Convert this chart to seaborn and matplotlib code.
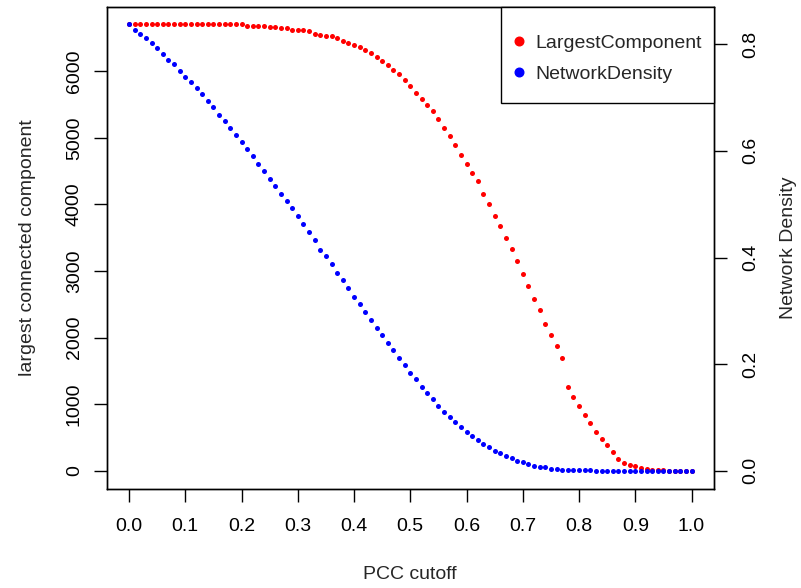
import numpy as np
import pandas as pd
import matplotlib
matplotlib.use("Agg")
import matplotlib.pyplot as plt
import seaborn as sns
from matplotlib.lines import Line2D
from matplotlib.patches import Rectangle

# PCC cutoff grid
pcc_cutoff = [
    0.00, 0.01, 0.02, 0.03, 0.04, 0.05, 0.06, 0.07, 0.08, 0.09,
    0.10, 0.11, 0.12, 0.13, 0.14, 0.15, 0.16, 0.17, 0.18, 0.19,
    0.20, 0.21, 0.22, 0.23, 0.24, 0.25, 0.26, 0.27, 0.28, 0.29,
    0.30, 0.31, 0.32, 0.33, 0.34, 0.35, 0.36, 0.37, 0.38, 0.39,
    0.40, 0.41, 0.42, 0.43, 0.44, 0.45, 0.46, 0.47, 0.48, 0.49,
    0.50, 0.51, 0.52, 0.53, 0.54, 0.55, 0.56, 0.57, 0.58, 0.59,
    0.60, 0.61, 0.62, 0.63, 0.64, 0.65, 0.66, 0.67, 0.68, 0.69,
    0.70, 0.71, 0.72, 0.73, 0.74, 0.75, 0.76, 0.77, 0.78, 0.79,
    0.80, 0.81, 0.82, 0.83, 0.84, 0.85, 0.86, 0.87, 0.88, 0.89,
    0.90, 0.91, 0.92, 0.93, 0.94, 0.95, 0.96, 0.97, 0.98, 0.99,
    1.00,
]

# size of the largest connected component at each cutoff
largest_component = [
    6700, 6700, 6700, 6700, 6700, 6700, 6700, 6700, 6700, 6700,
    6700, 6700, 6700, 6700, 6700, 6700, 6700, 6700, 6700, 6700,
    6700, 6672, 6671, 6670, 6670, 6665, 6656, 6641, 6640, 6617,
    6616, 6614, 6596, 6561, 6541, 6527, 6524, 6491, 6452, 6417,
    6396, 6357, 6316, 6266, 6207, 6146, 6091, 6016, 5962, 5868,
    5774, 5679, 5584, 5494, 5399, 5284, 5149, 5019, 4885, 4740,
    4610, 4476, 4346, 4161, 4012, 3822, 3672, 3503, 3325, 3148,
    2958, 2774, 2584, 2410, 2210, 2040, 1871, 1701, 1267, 1117,
    973, 833, 723, 588, 479, 384, 289, 180, 120, 84,
    69, 45, 28, 18, 12, 8, 6, 4, 3, 2,
    2,
]

# network density at each cutoff
network_density = [
    0.837, 0.827, 0.820, 0.811, 0.802, 0.792, 0.781, 0.771, 0.762, 0.750,
    0.739, 0.729, 0.717, 0.706, 0.694, 0.682, 0.668, 0.656, 0.642, 0.630,
    0.617, 0.604, 0.591, 0.576, 0.562, 0.548, 0.534, 0.520, 0.506, 0.492,
    0.478, 0.462, 0.447, 0.432, 0.415, 0.402, 0.388, 0.371, 0.357, 0.343,
    0.326, 0.313, 0.297, 0.282, 0.268, 0.254, 0.239, 0.226, 0.212, 0.198,
    0.184, 0.172, 0.158, 0.146, 0.134, 0.122, 0.111, 0.101, 0.092, 0.082,
    0.073, 0.066, 0.057, 0.050, 0.045, 0.037, 0.033, 0.028, 0.024, 0.019,
    0.017, 0.012, 0.0094, 0.0069, 0.0069, 0.0044, 0.0031, 0.0025, 0.0025, 0.0010,
    0.0009, 0.0008, 0.0008, 0.0007, 0.0006, 0.0006, 0.0005, 0.0005, 0.0004, 0.0004,
    0.0003, 0.0003, 0.0003, 0.0002, 0.0002, 0.0002, 0.0002, 0.0001, 0.0001, 0.0001,
    0.0001,
]

x_ticks = [0.0, 0.1, 0.2, 0.3, 0.4, 0.5, 0.6, 0.7, 0.8, 0.9, 1.0]
x_tick_labels = ["0.0", "0.1", "0.2", "0.3", "0.4", "0.5", "0.6", "0.7", "0.8", "0.9", "1.0"]
left_ticks = [0, 1000, 2000, 3000, 4000, 5000, 6000]
left_tick_labels = ["0", "1000", "2000", "3000", "4000", "5000", "6000"]
right_ticks = [0.0, 0.2, 0.4, 0.6, 0.8]
right_tick_labels = ["0.0", "0.2", "0.4", "0.6", "0.8"]
series_names = ["LargestComponent", "NetworkDensity"]
series_colors = ["#FF0000", "#0000FF"]

df = pd.DataFrame({
    "cutoff": pcc_cutoff,
    "largest": largest_component,
    "density": network_density,
})

sns.set_style("ticks")
plt.rcParams["font.family"] = ["Liberation Sans", "DejaVu Sans"]
plt.rcParams["axes.edgecolor"] = "black"
plt.rcParams["axes.linewidth"] = 1.0

FS = 14
TICK_LEN = 9.1
DOT = 13

fig = plt.figure(figsize=(8.01, 5.88), dpi=100)
ax = fig.add_axes([0.13296, 0.16888, 0.75843, 0.8199])

sns.scatterplot(data=df, x="cutoff", y="largest", color=series_colors[0],
                s=DOT, linewidth=0, ax=ax, legend=False)
ax.set_xlim(-0.04, 1.04)
ax.set_ylim(-266, 6968)

ax2 = ax.twinx()
sns.scatterplot(data=df, x="cutoff", y="density", color=series_colors[1],
                s=DOT, linewidth=0, ax=ax2, legend=False)
ax2.set_ylim(-0.0334, 0.8705)

# axes, ticks and labels
ax.set_xticks(x_ticks, x_tick_labels)
ax.set_yticks(left_ticks, left_tick_labels, rotation=90, va="center")
ax2.set_yticks(right_ticks, right_tick_labels, rotation=90, va="center")

ax.tick_params(axis="x", direction="out", length=TICK_LEN, width=1,
               pad=12.3, labelsize=FS, colors="black")
ax.tick_params(axis="y", direction="out", length=TICK_LEN, width=1,
               pad=8.0, labelsize=FS, colors="black", left=True, right=False)
ax2.tick_params(axis="y", direction="out", length=TICK_LEN, width=1,
                pad=11.5, labelsize=FS, colors="black")

for a in (ax, ax2):
    for sp in a.spines.values():
        sp.set_color("black")
        sp.set_linewidth(1.0)

ax.set_xlabel("PCC cutoff", fontsize=FS)
ax.set_ylabel("largest connected component", fontsize=FS)
ax2.set_ylabel("Network Density", fontsize=FS)
ax.xaxis.set_label_coords(0.5, -0.1604)
ax.yaxis.set_label_coords(-0.1164, 0.5)
ax2.yaxis.set_label_coords(1.1087, 0.5)

# legend box in the top-right corner
ax2.add_patch(Rectangle((0.6494, 0.8007), 1 - 0.6494, 1 - 0.8007,
                        transform=ax2.transAxes, facecolor="white",
                        edgecolor="black", linewidth=1.0, clip_on=False,
                        zorder=5))
handles = [Line2D([], [], marker="o", linestyle="none", color=c,
                  markersize=6.2) for c in series_colors]
leg = ax2.legend(handles, series_names, loc="upper left",
                 bbox_to_anchor=(0.6634, 0.9425), frameon=False,
                 borderpad=0, borderaxespad=0, handlelength=1.0,
                 handletextpad=0.32, labelspacing=0.70, fontsize=FS)
leg.set_zorder(6)

fig.savefig("out.png", dpi=100)
